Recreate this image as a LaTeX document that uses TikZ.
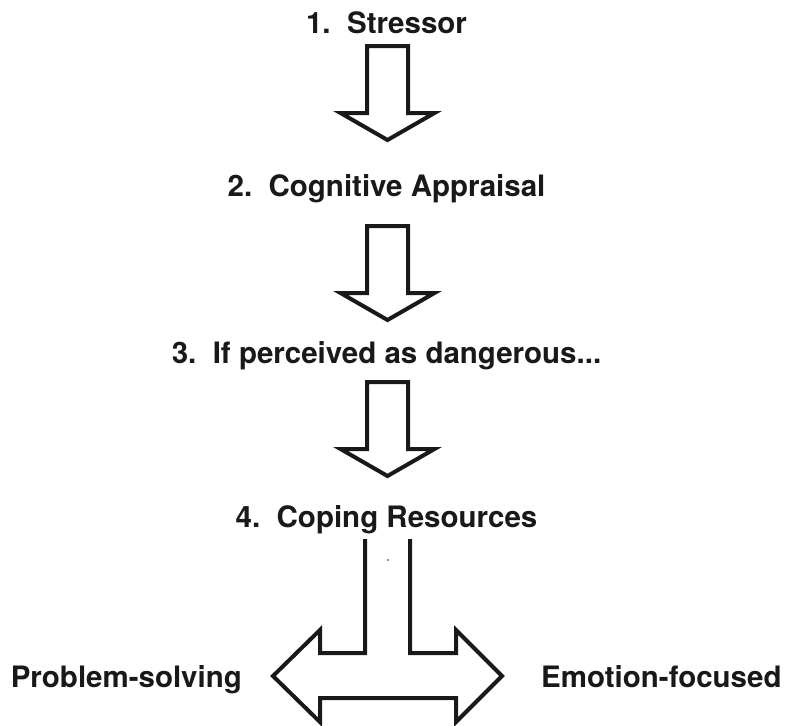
\documentclass[tikz,border=0pt]{standalone}
\usepackage{fontspec}
\setmainfont{TeX Gyre Heros}
\usepackage{tikz}

\begin{document}
\begin{tikzpicture}[x=1pt, y=-1pt,
    steplabel/.style={inner sep=0pt, text=gray!20!black, font=\fontsize{29.5}{34}\selectfont\bfseries},
    blockline/.style={draw=gray!20!black, line width=4pt, fill=white}]
            \def\cx{387.5}
            \def\sw{20.5}
            \def\hw{47}
            \def\blockarrow(#1){\draw[blockline] ({\cx-\sw},#1) -- ({\cx-\sw},#1+67) -- ({\cx-\hw},#1+67) -- (\cx,#1+94) -- ({\cx+\hw},#1+67) -- ({\cx+\sw},#1+67) -- ({\cx+\sw},#1) -- cycle;}
            \useasboundingbox (0,0) rectangle (785,726);
            \node[steplabel, anchor=base] (stressor) at (386.5,33) {1.\ \ Stressor};
            \node[steplabel, anchor=base] (appraisal) at (386.5,196) {2.\ \ Cognitive Appraisal};
            \node[steplabel, anchor=base] (danger) at (386.5,363) {3.\ \ If perceived as dangerous...};
            \node[steplabel, anchor=base] (coping) at (386.5,527) {4.\ \ Coping Resources};
            \node[steplabel, anchor=base east] (problem) at (242,687) {Problem-solving};
            \node[steplabel, anchor=base west] (emotion) at (541,687) {Emotion-focused};
            \blockarrow(46)
            \blockarrow(226)
            \blockarrow(382)
            % split arrow
            \draw[blockline, fill=none] (365,539) -- (365,653) -- (320,653) -- (320,630) -- (273,676) -- (320,722) -- (320,698)
                -- (456,698) -- (456,722) -- (502,676) -- (456,630) -- (456,653) -- (410,653) -- (410,539);
            \fill[gray!20!black] (388,560) circle (0.8);
\end{tikzpicture}
\end{document}
